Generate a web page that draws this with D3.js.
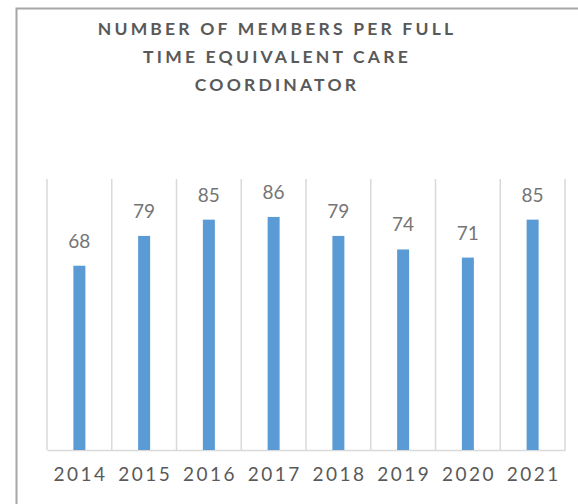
<!DOCTYPE html>
<html>
<head>
<meta charset="utf-8">
<script src="https://cdn.jsdelivr.net/npm/d3@7"></script>
<style>
  body { margin: 0; background: #fff; }
  svg { display: block; font-family: Lato, "Open Sans", sans-serif; }
</style>
</head>
<body>
<svg id="chart"></svg>
<script>
var years = ['2014', '2015', '2016', '2017', '2018', '2019', '2020', '2021'];
var members = [68, 79, 85, 86, 79, 74, 71, 85];
var titleLines = ['NUMBER OF MEMBERS PER FULL', 'TIME EQUIVALENT CARE', 'COORDINATOR'];

function createBarChart(w, h) {
  var margin = {top: 179, right: 13, bottom: 54, left: 47},
    width = w - margin.left - margin.right,
    height = h - margin.top - margin.bottom;

  var svg = d3.select('#chart')
    .attr('width', w)
    .attr('height', h);

  // chart frame (only left and top edges are visible in the crop)
  svg.append('rect')
    .attr('x', 16.5).attr('y', 8.5)
    .attr('width', w + 20).attr('height', h + 20)
    .attr('fill', 'none')
    .attr('stroke', '#a6a6a6')
    .attr('stroke-width', 2);

  svg.append('g').selectAll('text')
    .data(titleLines)
    .enter().append('text')
    .attr('x', 277)
    .attr('y', function(d, i) { return 35 + i * 28; })
    .attr('text-anchor', 'middle')
    .attr('fill', '#595959')
    .attr('font-size', '17.5px')
    .attr('font-weight', 'bold')
    .attr('letter-spacing', '3.2px')
    .text(function(d) { return d; });

  var x = d3.scaleBand().domain(years).range([0, width]).paddingInner(0).paddingOuter(0);
  var y = d3.scaleLinear().domain([0, 100]).range([height, 0]);

  var g = svg.append('g')
    .attr('transform', 'translate(' + margin.left + ',' + margin.top + ')');

  // vertical category gridlines
  g.append('g').selectAll('line')
    .data(d3.range(years.length + 1))
    .enter().append('line')
    .attr('x1', function(i) { return i * x.step(); })
    .attr('x2', function(i) { return i * x.step(); })
    .attr('y1', 0)
    .attr('y2', height)
    .attr('stroke', '#d9d9d9')
    .attr('stroke-width', 1.5);

  var xAxis = d3.axisBottom(x).tickSize(0).tickPadding(18);
  var ax = g.append('g')
    .attr('transform', 'translate(0,' + height + ')')
    .call(xAxis);
  ax.select('.domain').attr('stroke', '#d9d9d9').attr('stroke-width', 1.5);
  ax.selectAll('text')
    .attr('fill', '#595959')
    .attr('font-size', '19px')
    .attr('font-family', 'Lato, "Open Sans", sans-serif')
    .attr('letter-spacing', '2.5px')
    .attr('dx', '1.2px');

  var barW = 12;
  g.selectAll('.bar')
    .data(members)
    .enter().append('rect')
    .attr('class', 'bar')
    .attr('x', function(d, i) { return x(years[i]) + x.bandwidth() / 2 - barW / 2; })
    .attr('y', function(d) { return y(d); })
    .attr('width', barW)
    .attr('height', function(d) { return height - y(d); })
    .attr('fill', '#5b9bd5');

  g.selectAll('.label')
    .data(members)
    .enter().append('text')
    .attr('class', 'label')
    .attr('x', function(d, i) { return x(years[i]) + x.bandwidth() / 2; })
    .attr('y', function(d) { return y(d) - 18; })
    .attr('text-anchor', 'middle')
    .attr('fill', '#757575')
    .attr('font-size', '19px')
    .text(function(d) { return d; });
}

createBarChart(578, 504);
</script>
</body>
</html>
